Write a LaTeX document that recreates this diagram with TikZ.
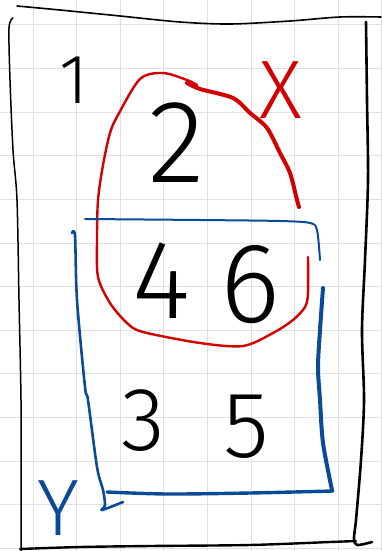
\documentclass[tikz,border=0pt]{standalone}
\usepackage{fontspec}
\newfontfamily\hand{Fira Sans Light}
\definecolor{gridgray}{HTML}{E0E0E0}
\definecolor{penred}{HTML}{D20000}
\definecolor{penblue}{HTML}{0B4A96}
\begin{document}
\begin{tikzpicture}[x=1pt,y=-1pt, line cap=round, line join=round,
  gridline/.style={gridgray, line width=1pt},
  blackpen/.style={black, line width=2pt},
  redpen/.style={penred, line width=3pt},
  bluepen/.style={penblue, line width=3.2pt},
  lbl/.style={anchor=base, inner sep=0pt, font=\hand}]
\useasboundingbox (0,0) rectangle (381,551);
\fill[white] (0,0) rectangle (381,551);
% grid paper
\foreach \i in {0,...,8} \draw[gridline] ({33+43.6*\i},0) -- ({33+43.6*\i},551);
\foreach \i in {0,...,12} \draw[gridline] (0,{25+43.6*\i}) -- (381,{25+43.6*\i});
% outer universe box
\draw[blackpen, line width=1.6pt] plot[smooth] coordinates {(17,6) (60,10) (120,16) (180,22) (230,24) (290,21) (340,17) (381,17)};
\draw[blackpen, line width=1.5pt] plot[smooth] coordinates {(13,18) (9,28) (10,80) (13,150) (17,200) (19,300) (21,400) (21,470) (21,551)};
\draw[blackpen, line width=2.6pt] plot[smooth] coordinates {(366,22) (367,100) (368,180) (365,260) (362,330) (364,400) (361,460) (356,520) (354,538) (357,545) (372,542)};
\draw[blackpen, line width=2.4pt] plot[smooth] coordinates {(20,549) (80,547) (150,546) (250,545) (330,542) (356,541)};
% red set X
\draw[redpen, line width=2.4pt] plot[smooth] coordinates {(197,85) (187,80) (163,73) (140,79) (118,115) (110,133) (103,165) (98,200) (97,240) (98,277) (110,303) (127,323) (143,332) (200,343) (243,346) (273,333) (293,320) (305,307) (308,293) (308,257)};
\draw[redpen, line width=4pt] plot[smooth] coordinates {(187,83) (200,89) (233,98) (250,113) (267,128) (280,153) (290,173) (297,200) (299,207)};
% blue set Y
\draw[bluepen, line width=2pt] plot[smooth] coordinates {(85,219) (200,220) (280,221) (310,223) (317,230) (320,260)};
\draw[bluepen, line width=4pt] plot[smooth] coordinates {(323,288) (320,330) (318,367) (320,400) (323,443) (332,490)};
\draw[bluepen, line width=3.4pt] plot[smooth] coordinates {(107,492) (167,494) (250,493) (333,491)};
\draw[bluepen, line width=2.6pt] plot[smooth] coordinates {(72,233) (75,236) (77,300) (85,387) (88,400) (97,467) (103,490) (105,505) (102,510) (123,502)};
% labels
\node[lbl, font=\hand\fontsize{70}{70}\selectfont] (one) at (74,103) {1};
\node[lbl, font=\hand\fontsize{118}{118}\selectfont] (two) at (177,182) {2};
\node[lbl, font=\hand\fontsize{112}{112}\selectfont] (four) at (162,318) {4};
\node[lbl, font=\hand\fontsize{114}{114}\selectfont] (six) at (250,322) {6};
\node[lbl, font=\hand\fontsize{90}{90}\selectfont] (three) at (143,450) {3};
\node[lbl, font=\hand\fontsize{94}{94}\selectfont] (five) at (246,457) {5};
\node[lbl, text=penred, font=\hand\fontsize{83}{83}\selectfont] (xlab) at (281,118) {X};
\node[lbl, text=penblue, font=\hand\fontsize{80}{80}\selectfont] (ylab) at (58,535) {Y};
\end{tikzpicture}
\end{document}
